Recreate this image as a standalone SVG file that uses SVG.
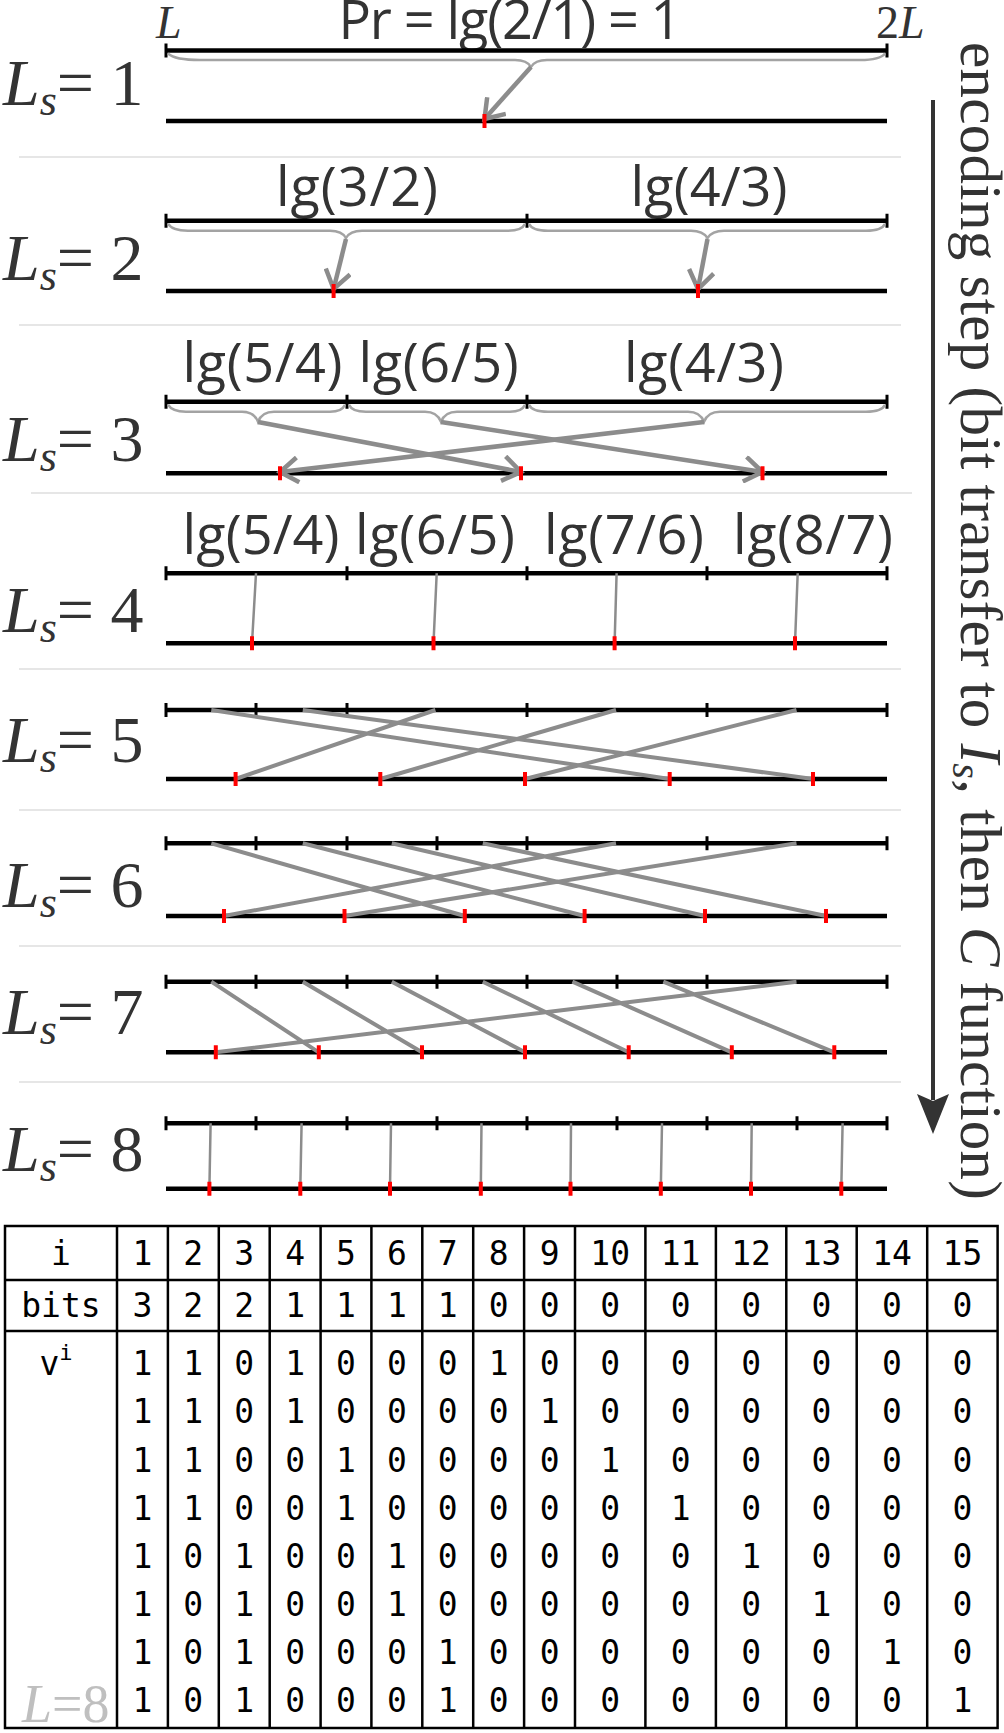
<svg xmlns="http://www.w3.org/2000/svg" width="1004" height="1733" viewBox="0 0 1004 1733">
<style>
.bl{stroke:#000;stroke-width:4.5;fill:none}
.tk{stroke:#000;stroke-width:3}
.rd{stroke:#ff0000;stroke-width:4}
.br{stroke:#a3a3a3;stroke-width:2.5;fill:none}
.ar{stroke:#8c8c8c;stroke-width:4.5;fill:none}
.ln{stroke:#8c8c8c;stroke-width:4;fill:none}
.lt{stroke:#8c8c8c;stroke-width:2.5;fill:none}
.sep{stroke:#e6e6e6;stroke-width:2}
.ls{font-family:"Liberation Serif",serif;font-size:66px;fill:#333}
.lg{font-family:"Open Sans",sans-serif;font-size:54px;fill:#333;text-anchor:middle}
.ser{font-family:"Liberation Serif",serif;fill:#333}
.tb{stroke:#000;stroke-width:2.5;fill:none}
.mono{font-family:"DejaVu Sans Mono",monospace;font-size:33px;fill:#000;text-anchor:middle}
</style>
<defs>
<marker id="ah" viewBox="0 0 28 28" refX="24" refY="14" markerWidth="28" markerHeight="28" markerUnits="userSpaceOnUse" orient="auto">
<path d="M6,1.5 L24,14 L6,26.5" fill="none" stroke="#8c8c8c" stroke-width="4.5"/>
</marker>
</defs>
<rect width="1004" height="1733" fill="#fff"/>
<g id="separators">
<line class="sep" x1="19" y1="157" x2="901" y2="157"/>
<line class="sep" x1="19" y1="325" x2="901" y2="325"/>
<line class="sep" x1="31" y1="493" x2="912" y2="493"/>
<line class="sep" x1="19" y1="669" x2="901" y2="669"/>
<line class="sep" x1="19" y1="810" x2="901" y2="810"/>
<line class="sep" x1="19" y1="946" x2="901" y2="946"/>
<line class="sep" x1="19" y1="1082" x2="901" y2="1082"/>
</g>
<g id="row1">
<text class="ls" x="3" y="105"><tspan font-style="italic">L</tspan><tspan font-style="italic" font-size="44" dy="10">s</tspan><tspan dy="-10">= 1</tspan></text>
<text class="ser" x="156" y="38" font-size="46" font-style="italic">L</text>
<text class="ser" x="876" y="38" font-size="46">2<tspan font-style="italic">L</tspan></text>
<text class="lg" x="510" y="39" font-size="42" textLength="343">Pr = lg(2/1) = 1</text>
<line class="bl" x1="166" y1="50.5" x2="887" y2="50.5"/>
<path class="tk" d="M166,43.5V57.5M887,43.5V57.5"/>
<line class="bl" x1="166" y1="121" x2="887" y2="121"/>
</g>
<g id="row2">
<text class="ls" x="3" y="280"><tspan font-style="italic">L</tspan><tspan font-style="italic" font-size="44" dy="10">s</tspan><tspan dy="-10">= 2</tspan></text>
<text class="lg" x="357" y="206" textLength="162">lg(3/2)</text>
<text class="lg" x="709" y="206" textLength="157">lg(4/3)</text>
<line class="bl" x1="166" y1="220.7" x2="887" y2="220.7"/>
<path class="tk" d="M166,213.7V227.7M527,213.7V227.7M887,213.7V227.7"/>
<line class="bl" x1="166" y1="291" x2="887" y2="291"/>
</g>
<g id="row3">
<text class="ls" x="3" y="461"><tspan font-style="italic">L</tspan><tspan font-style="italic" font-size="44" dy="10">s</tspan><tspan dy="-10">= 3</tspan></text>
<text class="lg" x="262.5" y="382" textLength="160">lg(5/4)</text>
<text class="lg" x="438.6" y="382" textLength="160">lg(6/5)</text>
<text class="lg" x="704" y="382" textLength="160">lg(4/3)</text>
<line class="bl" x1="166" y1="401.7" x2="887" y2="401.7"/>
<path class="tk" d="M166,394.7V408.7M347,394.7V408.7M527,394.7V408.7M887,394.7V408.7"/>
<line class="bl" x1="166" y1="473.3" x2="887" y2="473.3"/>
</g>
<g id="row4">
<text class="ls" x="3" y="632"><tspan font-style="italic">L</tspan><tspan font-style="italic" font-size="44" dy="10">s</tspan><tspan dy="-10">= 4</tspan></text>
<text class="lg" x="261" y="554" textLength="157">lg(5/4)</text>
<text class="lg" x="435" y="554" textLength="160">lg(6/5)</text>
<text class="lg" x="624" y="554" textLength="160">lg(7/6)</text>
<text class="lg" x="813" y="554" textLength="160">lg(8/7)</text>
<line class="bl" x1="166" y1="573.3" x2="887" y2="573.3"/>
<path class="tk" d="M166,566.3V580.3M347,566.3V580.3M527,566.3V580.3M707,566.3V580.3M887,566.3V580.3"/>
<line class="bl" x1="166" y1="643.3" x2="887" y2="643.3"/>
</g>
<g id="row5">
<text class="ls" x="3" y="762"><tspan font-style="italic">L</tspan><tspan font-style="italic" font-size="44" dy="10">s</tspan><tspan dy="-10">= 5</tspan></text>
<line class="bl" x1="166" y1="710" x2="887" y2="710"/>
<path class="tk" d="M166,703V717M256,703V717M347,703V717M527,703V717M707,703V717M887,703V717"/>
<line class="bl" x1="166" y1="779" x2="887" y2="779"/>
</g>
<g id="row6">
<text class="ls" x="3" y="907"><tspan font-style="italic">L</tspan><tspan font-style="italic" font-size="44" dy="10">s</tspan><tspan dy="-10">= 6</tspan></text>
<line class="bl" x1="166" y1="843.3" x2="887" y2="843.3"/>
<path class="tk" d="M166,836.3V850.3M256,836.3V850.3M347,836.3V850.3M437,836.3V850.3M527,836.3V850.3M707,836.3V850.3M887,836.3V850.3"/>
<line class="bl" x1="166" y1="916" x2="887" y2="916"/>
</g>
<g id="row7">
<text class="ls" x="3" y="1034"><tspan font-style="italic">L</tspan><tspan font-style="italic" font-size="44" dy="10">s</tspan><tspan dy="-10">= 7</tspan></text>
<line class="bl" x1="166" y1="981.7" x2="887" y2="981.7"/>
<path class="tk" d="M166,974.7V988.7M256,974.7V988.7M347,974.7V988.7M437,974.7V988.7M527,974.7V988.7M617,974.7V988.7M707,974.7V988.7M887,974.7V988.7"/>
<line class="bl" x1="166" y1="1052.3" x2="887" y2="1052.3"/>
</g>
<g id="row8">
<text class="ls" x="3" y="1171"><tspan font-style="italic">L</tspan><tspan font-style="italic" font-size="44" dy="10">s</tspan><tspan dy="-10">= 8</tspan></text>
<line class="bl" x1="166" y1="1123.3" x2="887" y2="1123.3"/>
<path class="tk" d="M166,1116.3V1130.3M256,1116.3V1130.3M347,1116.3V1130.3M437,1116.3V1130.3M527,1116.3V1130.3M617,1116.3V1130.3M707,1116.3V1130.3M797,1116.3V1130.3M887,1116.3V1130.3"/>
<line class="bl" x1="166" y1="1188.7" x2="887" y2="1188.7"/>
</g>
<g id="connectors">
<path class="br" d="M168,53.5 Q175,60 200,60 L515,60 Q527,60 531,67 Q535,60 547,60 L860,60 Q880,60 885,53.5"/>
<line class="ar" x1="531" y1="67" x2="484.5" y2="119" marker-end="url(#ah)"/>
<path class="br" d="M168,223.7 Q172,230.7 188,230.7 L330,230.7 Q342,230.7 346,238 Q350,230.7 362,230.7 L508,230.7 Q522,230.7 525,223.7"/>
<path class="br" d="M529,223.7 Q532,230.7 548,230.7 L691,230.7 Q703,230.7 707.5,238 Q712,230.7 724,230.7 L866,230.7 Q882,230.7 885,223.7"/>
<line class="ar" x1="346" y1="239" x2="333.6" y2="289" marker-end="url(#ah)"/>
<line class="ar" x1="707.5" y1="239" x2="698" y2="289" marker-end="url(#ah)"/>
<path class="br" d="M168,404.7 Q172,411.7 186,411.7 L242,411.7 Q254,411.7 258,421.7 Q262,411.7 274,411.7 L330,411.7 Q342,411.7 345,404.7"/>
<path class="br" d="M349,404.7 Q352,411.7 366,411.7 L425,411.7 Q437,411.7 441,421.7 Q445,411.7 457,411.7 L510,411.7 Q522,411.7 525,404.7"/>
<path class="br" d="M529,404.7 Q532,411.7 548,411.7 L688,411.7 Q700,411.7 704,421.7 Q708,411.7 720,411.7 L866,411.7 Q882,411.7 885,404.7"/>
<line class="ar" x1="258" y1="422" x2="521" y2="472" marker-end="url(#ah)"/>
<line class="ar" x1="441" y1="422" x2="762.5" y2="472" marker-end="url(#ah)"/>
<line class="ar" x1="704" y1="422" x2="280" y2="472" marker-end="url(#ah)"/>
<path class="lt" d="M256,573.3L252,643.3M436.7,573.3L433.5,643.3M616.6,573.3L614.6,643.3M797.7,573.3L795,643.3"/>
<path class="ln" d="M211.3,710L669.7,779M302.8,710L813,779M435.4,710L235.6,779M616,710L380.3,779M796.5,710L525,779"/>
<path class="ln" d="M211.3,843.3L464.8,916M302.8,843.3L584.6,916M391.8,843.3L705,916M482.8,843.3L826,916M616,843.3L224,916M796.5,843.3L344.5,916"/>
<path class="ln" d="M211.3,981.7L318.8,1052.3M302.8,981.7L422,1052.3M391.8,981.7L525,1052.3M482.8,981.7L628.7,1052.3M572.4,981.7L731.8,1052.3M663.3,981.7L834.3,1052.3M796.5,981.7L215.8,1052.3"/>
<path class="lt" d="M210.6,1123.3L209.4,1188.7M301.6,1123.3L300.3,1188.7M391,1123.3L390,1188.7M481.5,1123.3L480.8,1188.7M571,1123.3L570.5,1188.7M662,1123.3L660.8,1188.7M751.7,1123.3L751,1188.7M842.6,1123.3L841.3,1188.7"/>
</g>
<g id="marks">
<path class="rd" d="M484.5,114V128"/>
<path class="rd" d="M333.6,284V298M698,284V298"/>
<path class="rd" d="M280,466.3V480.3M521,466.3V480.3M762.5,466.3V480.3"/>
<path class="rd" d="M252,636.3V650.3M433.5,636.3V650.3M614.6,636.3V650.3M795,636.3V650.3"/>
<path class="rd" d="M235.6,772V786M380.3,772V786M525,772V786M669.7,772V786M813,772V786"/>
<path class="rd" d="M224,909V923M344.5,909V923M464.8,909V923M584.6,909V923M705,909V923M826,909V923"/>
<path class="rd" d="M215.8,1045.3V1059.3M318.8,1045.3V1059.3M422,1045.3V1059.3M525,1045.3V1059.3M628.7,1045.3V1059.3M731.8,1045.3V1059.3M834.3,1045.3V1059.3"/>
<path class="rd" d="M209.4,1181.7V1195.7M300.3,1181.7V1195.7M390,1181.7V1195.7M480.8,1181.7V1195.7M570.5,1181.7V1195.7M660.8,1181.7V1195.7M751,1181.7V1195.7M841.3,1181.7V1195.7"/>
</g>
<g id="step-arrow">
<line x1="933" y1="100" x2="933" y2="1100" stroke="#333" stroke-width="4"/>
<path d="M917,1094 L933,1134 L949,1094 L933,1101 Z" fill="#333"/>
<text class="ser" transform="translate(961,42) rotate(90)" font-size="59" textLength="1158">encoding step (bit transfer to <tspan font-style="italic">I</tspan><tspan font-style="italic" font-size="40" dy="8">s</tspan><tspan dy="-8">, then </tspan><tspan font-style="italic">C</tspan> function)</text>
</g>
<g id="table">
<rect class="tb" x="5" y="1226" width="992.6" height="502"/>
<path class="tb" d="M5,1280H997.6M5,1331H997.6"/>
<path class="tb" d="M117,1226V1728M167.9,1226V1728M218.8,1226V1728M269.7,1226V1728M320.6,1226V1728M371.4,1226V1728M422.3,1226V1728M473.2,1226V1728M524.1,1226V1728M575,1226V1728M645.4,1226V1728M715.9,1226V1728M786.3,1226V1728M856.7,1226V1728M927.2,1226V1728"/>
<g class="mono">
<text x="61" y="1265">i</text>
<text x="142.4" y="1265">1</text><text x="193.3" y="1265">2</text><text x="244.2" y="1265">3</text><text x="295.1" y="1265">4</text><text x="346" y="1265">5</text><text x="396.9" y="1265">6</text><text x="447.8" y="1265">7</text><text x="498.7" y="1265">8</text><text x="549.6" y="1265">9</text><text x="610.2" y="1265">10</text><text x="680.6" y="1265">11</text><text x="751.1" y="1265">12</text><text x="821.5" y="1265">13</text><text x="892" y="1265">14</text><text x="962.4" y="1265">15</text>
<text x="61" y="1317">bits</text>
<text x="142.4" y="1317">3</text><text x="193.3" y="1317">2</text><text x="244.2" y="1317">2</text><text x="295.1" y="1317">1</text><text x="346" y="1317">1</text><text x="396.9" y="1317">1</text><text x="447.8" y="1317">1</text><text x="498.7" y="1317">0</text><text x="549.6" y="1317">0</text><text x="610.2" y="1317">0</text><text x="680.6" y="1317">0</text><text x="751.1" y="1317">0</text><text x="821.5" y="1317">0</text><text x="892" y="1317">0</text><text x="962.4" y="1317">0</text>
<text x="56" y="1375">v<tspan font-size="22" dy="-15">i</tspan></text>
<text x="142.4" y="1375">1</text><text x="193.3" y="1375">1</text><text x="244.2" y="1375">0</text><text x="295.1" y="1375">1</text><text x="346" y="1375">0</text><text x="396.9" y="1375">0</text><text x="447.8" y="1375">0</text><text x="498.7" y="1375">1</text><text x="549.6" y="1375">0</text><text x="610.2" y="1375">0</text><text x="680.6" y="1375">0</text><text x="751.1" y="1375">0</text><text x="821.5" y="1375">0</text><text x="892" y="1375">0</text><text x="962.4" y="1375">0</text>
<text x="142.4" y="1423">1</text><text x="193.3" y="1423">1</text><text x="244.2" y="1423">0</text><text x="295.1" y="1423">1</text><text x="346" y="1423">0</text><text x="396.9" y="1423">0</text><text x="447.8" y="1423">0</text><text x="498.7" y="1423">0</text><text x="549.6" y="1423">1</text><text x="610.2" y="1423">0</text><text x="680.6" y="1423">0</text><text x="751.1" y="1423">0</text><text x="821.5" y="1423">0</text><text x="892" y="1423">0</text><text x="962.4" y="1423">0</text>
<text x="142.4" y="1471.5">1</text><text x="193.3" y="1471.5">1</text><text x="244.2" y="1471.5">0</text><text x="295.1" y="1471.5">0</text><text x="346" y="1471.5">1</text><text x="396.9" y="1471.5">0</text><text x="447.8" y="1471.5">0</text><text x="498.7" y="1471.5">0</text><text x="549.6" y="1471.5">0</text><text x="610.2" y="1471.5">1</text><text x="680.6" y="1471.5">0</text><text x="751.1" y="1471.5">0</text><text x="821.5" y="1471.5">0</text><text x="892" y="1471.5">0</text><text x="962.4" y="1471.5">0</text>
<text x="142.4" y="1519.5">1</text><text x="193.3" y="1519.5">1</text><text x="244.2" y="1519.5">0</text><text x="295.1" y="1519.5">0</text><text x="346" y="1519.5">1</text><text x="396.9" y="1519.5">0</text><text x="447.8" y="1519.5">0</text><text x="498.7" y="1519.5">0</text><text x="549.6" y="1519.5">0</text><text x="610.2" y="1519.5">0</text><text x="680.6" y="1519.5">1</text><text x="751.1" y="1519.5">0</text><text x="821.5" y="1519.5">0</text><text x="892" y="1519.5">0</text><text x="962.4" y="1519.5">0</text>
<text x="142.4" y="1567.5">1</text><text x="193.3" y="1567.5">0</text><text x="244.2" y="1567.5">1</text><text x="295.1" y="1567.5">0</text><text x="346" y="1567.5">0</text><text x="396.9" y="1567.5">1</text><text x="447.8" y="1567.5">0</text><text x="498.7" y="1567.5">0</text><text x="549.6" y="1567.5">0</text><text x="610.2" y="1567.5">0</text><text x="680.6" y="1567.5">0</text><text x="751.1" y="1567.5">1</text><text x="821.5" y="1567.5">0</text><text x="892" y="1567.5">0</text><text x="962.4" y="1567.5">0</text>
<text x="142.4" y="1615.5">1</text><text x="193.3" y="1615.5">0</text><text x="244.2" y="1615.5">1</text><text x="295.1" y="1615.5">0</text><text x="346" y="1615.5">0</text><text x="396.9" y="1615.5">1</text><text x="447.8" y="1615.5">0</text><text x="498.7" y="1615.5">0</text><text x="549.6" y="1615.5">0</text><text x="610.2" y="1615.5">0</text><text x="680.6" y="1615.5">0</text><text x="751.1" y="1615.5">0</text><text x="821.5" y="1615.5">1</text><text x="892" y="1615.5">0</text><text x="962.4" y="1615.5">0</text>
<text x="142.4" y="1663.5">1</text><text x="193.3" y="1663.5">0</text><text x="244.2" y="1663.5">1</text><text x="295.1" y="1663.5">0</text><text x="346" y="1663.5">0</text><text x="396.9" y="1663.5">0</text><text x="447.8" y="1663.5">1</text><text x="498.7" y="1663.5">0</text><text x="549.6" y="1663.5">0</text><text x="610.2" y="1663.5">0</text><text x="680.6" y="1663.5">0</text><text x="751.1" y="1663.5">0</text><text x="821.5" y="1663.5">0</text><text x="892" y="1663.5">1</text><text x="962.4" y="1663.5">0</text>
<text x="142.4" y="1711.5">1</text><text x="193.3" y="1711.5">0</text><text x="244.2" y="1711.5">1</text><text x="295.1" y="1711.5">0</text><text x="346" y="1711.5">0</text><text x="396.9" y="1711.5">0</text><text x="447.8" y="1711.5">1</text><text x="498.7" y="1711.5">0</text><text x="549.6" y="1711.5">0</text><text x="610.2" y="1711.5">0</text><text x="680.6" y="1711.5">0</text><text x="751.1" y="1711.5">0</text><text x="821.5" y="1711.5">0</text><text x="892" y="1711.5">0</text><text x="962.4" y="1711.5">1</text>
</g>
<text x="22" y="1722" font-family="Liberation Serif,serif" font-size="54" fill="#bfbfbf"><tspan font-style="italic">L</tspan>=8</text>
</g>
</svg>
